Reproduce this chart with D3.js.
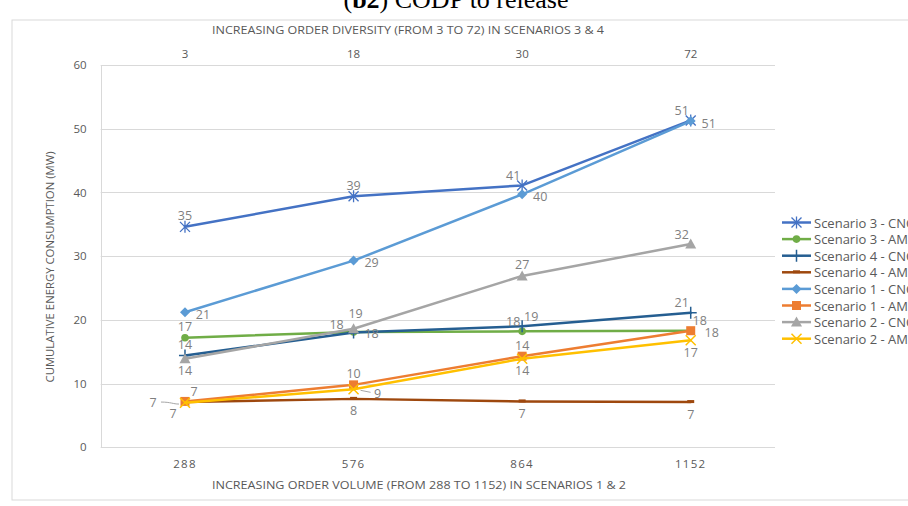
<!DOCTYPE html>
<html><head><meta charset="utf-8">
<script src="https://cdn.jsdelivr.net/npm/d3@7/dist/d3.min.js"></script>
<style>
html,body{margin:0;padding:0;background:#fff;}
svg{display:block;font-family:"Open Sans",sans-serif;}
</style></head>
<body>
<svg id="chart" width="908" height="506"></svg>
<script>
// ---- data ----
const volumes = ["288", "576", "864", "1152"];
const diversities = ["3", "18", "30", "72"];
const yTicks = [0, 10, 20, 30, 40, 50, 60];
const seriesNames = ["Scenario 3 - CNC", "Scenario 3 - AM", "Scenario 4 - CNC", "Scenario 4 - AM",
                     "Scenario 1 - CNC", "Scenario 1 - AM", "Scenario 2 - CNC", "Scenario 2 - AM"];
const s3CNC = [34.6, 39.4, 41.1, 51.3];
const s3AM  = [17.2, 18.1, 18.2, 18.3];
const s4CNC = [14.4, 18.0, 19.0, 21.1];
const s4AM  = [7.1, 7.6, 7.2, 7.1];
const s1CNC = [21.2, 29.3, 39.7, 51.2];
const s1AM  = [7.2, 9.8, 14.3, 18.3];
const s2CNC = [13.9, 18.6, 26.9, 31.9];
const s2AM  = [7.0, 9.1, 13.9, 16.8];

// ---- styling (not data) ----
const colors  = ["#4472C4", "#70AD47", "#255E91", "#9E480E", "#5B9BD5", "#ED7D31", "#A5A5A5", "#FFC000"];
const markers = ["star", "circle", "plus", "dash", "diamond", "square", "triangle", "cross"];
const labelPlacement = [
  ["t", "t", "tl", "tl"],
  ["t", "r", "tl", "tr"],
  ["t", "tll", "tr", "tl"],
  ["lf", "b", "b", "b"],
  ["r", "r", "r", "r"],
  ["tr", "t", "t", "rr"],
  ["b", "tt", "t", "tl"],
  ["bl", "rf", "b", "b"]
];
const placeOffset = {
  t: [0, -11], tt: [2, -15], b: [0, 12], r: [18, 2], rr: [21, 2], tl: [-9, -10], tll: [-17, -8],
  tr: [9, -10], bl: [-12, 11], lf: [-32, 0], rf: [24, 4]
};

const values = [s3CNC, s3AM, s4CNC, s4AM, s1CNC, s1AM, s2CNC, s2AM];
const series = seriesNames.map((name, i) => ({name, values: values[i], color: colors[i], marker: markers[i], place: labelPlacement[i]}));

const svg = d3.select("#chart");
const plot = {left: 100.7, right: 775, top: 65, bottom: 447.3};

const x = d3.scaleBand().domain(volumes).range([plot.left, plot.right]);
const xTop = d3.scaleBand().domain(diversities).range([plot.left, plot.right]);
const y = d3.scaleLinear().domain([0, 60]).range([plot.bottom, plot.top]);
const cx = v => x(v) + x.bandwidth() / 2;

// title (cut off at the top)
svg.append("text").attr("x", 456).attr("y", 8).attr("text-anchor", "middle")
  .attr("font-family", "Liberation Serif, serif").attr("font-size", 26).attr("fill", "#000")
  .html('(<tspan font-weight="bold">b2</tspan>) CODP to release');

// chart frame
svg.append("rect").attr("x", 12).attr("y", 20).attr("width", 920).attr("height", 480)
  .attr("fill", "none").attr("stroke", "#d9d9d9").attr("stroke-width", 1);

// gridlines
svg.append("g").selectAll("line").data(yTicks).join("line")
  .attr("x1", plot.left).attr("x2", plot.right)
  .attr("y1", d => Math.round(y(d)) + 0.5).attr("y2", d => Math.round(y(d)) + 0.5)
  .attr("stroke", "#d9d9d9").attr("stroke-width", 1);
// left axis line
svg.append("line").attr("x1", Math.round(plot.left) + 0.5).attr("x2", Math.round(plot.left) + 0.5)
  .attr("y1", plot.top).attr("y2", plot.bottom).attr("stroke", "#d9d9d9");

// y axis
const yAxis = d3.axisLeft(y).tickValues(yTicks).tickSize(0).tickPadding(14);
const gy = svg.append("g").attr("transform", `translate(${plot.left},0)`).call(yAxis);
gy.select(".domain").remove();
gy.selectAll("text").attr("fill", "#595959").attr("font-size", 11.5).attr("font-family", "Open Sans, sans-serif");

// bottom axis
const xAxis = d3.axisBottom(x).tickSize(0).tickPadding(13);
const gx = svg.append("g").attr("transform", `translate(0,${plot.bottom})`).call(xAxis);
gx.select(".domain").remove();
gx.selectAll("text").attr("fill", "#595959").attr("font-size", 11.5).attr("letter-spacing", 1.3)
  .attr("font-family", "Open Sans, sans-serif");

// top axis
const xTopAxis = d3.axisTop(xTop).tickSize(0).tickPadding(7);
const gt = svg.append("g").attr("transform", `translate(0,${plot.top})`).call(xTopAxis);
gt.select(".domain").remove();
gt.selectAll("text").attr("fill", "#595959").attr("font-size", 11.5).attr("font-family", "Open Sans, sans-serif");

// axis titles
svg.append("text").attr("x", 408).attr("y", 34).attr("text-anchor", "middle")
  .attr("fill", "#595959").attr("font-size", 10.5)
  .attr("textLength", 392).attr("lengthAdjust", "spacingAndGlyphs")
  .text("INCREASING ORDER DIVERSITY (FROM 3 TO 72) IN SCENARIOS 3 & 4");
svg.append("text").attr("x", 419).attr("y", 489).attr("text-anchor", "middle")
  .attr("fill", "#595959").attr("font-size", 10.5)
  .attr("textLength", 414).attr("lengthAdjust", "spacingAndGlyphs")
  .text("INCREASING ORDER VOLUME (FROM 288 TO 1152) IN SCENARIOS 1 & 2");
svg.append("text").attr("transform", "translate(54,267) rotate(-90)").attr("text-anchor", "middle")
  .attr("fill", "#595959").attr("font-size", 10.5)
  .attr("textLength", 231).attr("lengthAdjust", "spacingAndGlyphs")
  .text("CUMULATIVE ENERGY CONSUMPTION (MW)");

// marker drawing
function drawMarker(g, type, color, px, py) {
  const s = 5;
  if (type === "star") {
    g.append("path").attr("d", `M${px-s},${py-s}L${px+s},${py+s}M${px-s},${py+s}L${px+s},${py-s}M${px},${py-s-1}L${px},${py+s+1}`)
      .attr("stroke", color).attr("stroke-width", 1.3).attr("fill", "none");
  } else if (type === "circle") {
    g.append("circle").attr("cx", px).attr("cy", py).attr("r", 3.8).attr("fill", color);
  } else if (type === "plus") {
    g.append("path").attr("d", `M${px-s-1},${py}L${px+s+1},${py}M${px},${py-s-1}L${px},${py+s+1}`)
      .attr("stroke", color).attr("stroke-width", 1.5).attr("fill", "none");
  } else if (type === "dash") {
    g.append("rect").attr("x", px - 3.5).attr("y", py - 2).attr("width", 7).attr("height", 3).attr("fill", color);
  } else if (type === "diamond") {
    g.append("path").attr("d", `M${px},${py-5}L${px+5},${py}L${px},${py+5}L${px-5},${py}Z`).attr("fill", color);
  } else if (type === "square") {
    g.append("rect").attr("x", px - 4.5).attr("y", py - 4.5).attr("width", 9).attr("height", 9).attr("fill", color);
  } else if (type === "triangle") {
    g.append("path").attr("d", `M${px},${py-5.5}L${px+5.5},${py+4.5}L${px-5.5},${py+4.5}Z`).attr("fill", color);
  } else if (type === "cross") {
    g.append("path").attr("d", `M${px-s},${py-s}L${px+s},${py+s}M${px-s},${py+s}L${px+s},${py-s}`)
      .attr("stroke", color).attr("stroke-width", 1.5).attr("fill", "none");
  }
}

const line = d3.line().x((d, i) => cx(volumes[i])).y(d => y(d));

const gSeries = svg.append("g");
series.forEach(s => {
  const g = gSeries.append("g");
  g.append("path").attr("d", line(s.values)).attr("fill", "none")
    .attr("stroke", s.color).attr("stroke-width", 2.5).attr("stroke-linejoin", "round").attr("stroke-linecap", "round");
  s.values.forEach((v, i) => drawMarker(g, s.marker, s.color, cx(volumes[i]), y(v)));
});

// data labels
const fmt = d3.format(".0f");
const gLabels = svg.append("g");
series.forEach(s => {
  s.values.forEach((v, i) => {
    const px = cx(volumes[i]), py = y(v);
    const p = s.place[i];
    const [dx, dy] = placeOffset[p];
    if (p === "lf") {
      gLabels.append("path").attr("d", `M${px-24},${py}C${px-14},${py} ${px-12},${py+2} ${px-6},${py+2}`)
        .attr("stroke", "#a6a6a6").attr("fill", "none").attr("stroke-width", 1);
    } else if (p === "rf") {
      gLabels.append("path").attr("d", `M${px+7},${py+1}L${px+17},${py+3}`)
        .attr("stroke", "#a6a6a6").attr("fill", "none").attr("stroke-width", 1);
    }
    gLabels.append("text").attr("x", px + dx).attr("y", py + dy)
      .attr("text-anchor", "middle").attr("dominant-baseline", "central")
      .attr("fill", "#7f7f7f").attr("font-size", 12.5)
      .text(fmt(v));
  });
});

// legend
const legend = svg.append("g");
series.forEach((s, i) => {
  const ly = 222.5 + i * 16.6;
  const g = legend.append("g");
  g.append("line").attr("x1", 782).attr("x2", 811).attr("y1", ly).attr("y2", ly)
    .attr("stroke", s.color).attr("stroke-width", 2.5);
  drawMarker(g, s.marker, s.color, 796.5, ly);
  g.append("text").attr("x", 814).attr("y", ly).attr("dominant-baseline", "central")
    .attr("fill", "#595959").attr("font-size", 13).text(s.name);
});
</script>
</body></html>
